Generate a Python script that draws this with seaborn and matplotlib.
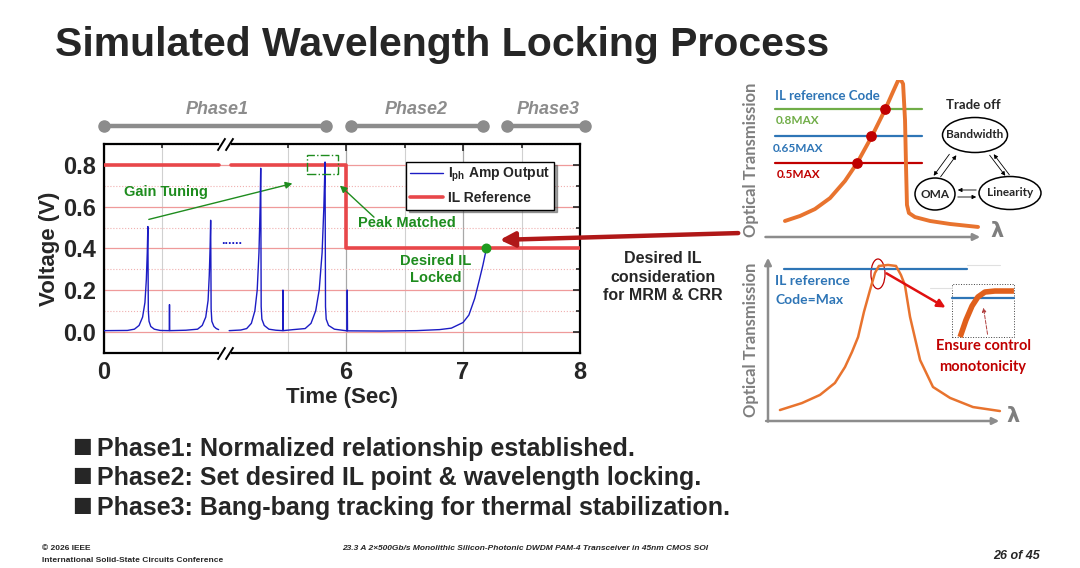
import numpy as np
import pandas as pd
import matplotlib
matplotlib.use("Agg")
import matplotlib.pyplot as plt
import seaborn as sns
from matplotlib.patches import Rectangle, Ellipse
from matplotlib.lines import Line2D

# ---------------- main chart data (time in s, voltage in V) ----------------
# phase-1 trace before the axis break (0 - 1 s)
seg1_t = [0.00, 0.20, 0.26, 0.30, 0.33, 0.35, 0.362, 0.370, 0.375, 0.379, 0.385, 0.40, 0.43, 0.48,
          0.558, 0.560, 0.562, 0.70, 0.80, 0.84, 0.87, 0.89, 0.90, 0.907, 0.912, 0.916, 0.922, 0.94, 0.96, 0.98]
seg1_v = [0.005, 0.006, 0.012, 0.03, 0.07, 0.14, 0.25, 0.38, 0.505, 0.10, 0.05, 0.025, 0.012, 0.006,
          0.005, 0.13, 0.005, 0.007, 0.012, 0.03, 0.07, 0.15, 0.27, 0.40, 0.535, 0.11, 0.05, 0.025, 0.015, 0.01]
# trace after the break (5 - 8 s)
seg2_t = [5.00, 5.10, 5.15, 5.19, 5.22, 5.24, 5.255, 5.265, 5.270, 5.274, 5.28, 5.30, 5.34, 5.40,
          5.458, 5.460, 5.462, 5.55, 5.65, 5.70, 5.74, 5.77, 5.795, 5.81, 5.820, 5.824, 5.83, 5.85, 5.90, 5.98,
          6.008, 6.010, 6.012, 6.30, 6.60, 6.80, 6.90, 7.00, 7.05, 7.10, 7.14, 7.17, 7.20]
seg2_v = [0.005, 0.008, 0.015, 0.04, 0.10, 0.20, 0.38, 0.60, 0.785, 0.12, 0.06, 0.03, 0.012, 0.007,
          0.005, 0.20, 0.005, 0.01, 0.015, 0.04, 0.10, 0.20, 0.38, 0.60, 0.815, 0.12, 0.06, 0.03, 0.012, 0.006,
          0.004, 0.20, 0.004, 0.003, 0.005, 0.01, 0.017, 0.044, 0.08, 0.16, 0.25, 0.32, 0.40]
# IL reference
il_t = [0.0, 0.98, 5.02, 6.0, 6.0, 8.0]
il_v = [0.8, 0.8, 0.8, 0.8, 0.4, 0.4]
il_seg = [0, 0, 1, 1, 1, 1]
lock_t, lock_v = 7.2, 0.4

x_ticks = [0, 6, 7, 8]
x_minor = [0.5, 5.5, 6.5, 7.5]
y_ticks = [0.0, 0.2, 0.4, 0.6, 0.8]
y_minor = [-0.1, 0.1, 0.3, 0.5, 0.7, 0.9]

phase_names = ["Phase1", "Phase2", "Phase3"]
phase_start = [0.0, 6.04, 7.38]
phase_end = [5.83, 7.17, 8.04]
phase_label_t = [0.97, 6.60, 7.73]

# axis break: 1 s ... 5 s squeezed into a small gap
BRK_LO, BRK_HI, GAP = 1.0, 5.0, 0.07

# ---------------- right-hand sketches (normalised units) ----------------
top_x = [0.083, 0.153, 0.222, 0.292, 0.361, 0.417, 0.486, 0.546, 0.583, 0.606, 0.620, 0.630, 0.639,
         0.644, 0.648, 0.657, 0.685, 0.755, 0.847, 0.977]
top_y = [0.102, 0.134, 0.178, 0.248, 0.357, 0.471, 0.643, 0.809, 0.924, 0.994, 1.000, 0.975, 0.745,
         0.427, 0.204, 0.153, 0.127, 0.102, 0.083, 0.064]
ref_levels = [0.815, 0.643, 0.471]
ref_cross_x = [0.546, 0.481, 0.417]
ref_names = ["0.8MAX", "0.65MAX", "0.5MAX"]
ref_colors = ["#70ad47", "#2e75b6", "#c00000"]

bot_x = [0.051, 0.145, 0.222, 0.286, 0.329, 0.359, 0.385, 0.410, 0.436, 0.457, 0.474, 0.513, 0.547,
         0.568, 0.585, 0.607, 0.650, 0.705, 0.778, 0.876, 0.991]
bot_y = [0.066, 0.108, 0.157, 0.229, 0.325, 0.416, 0.506, 0.657, 0.789, 0.892, 0.934, 0.940, 0.934,
         0.880, 0.819, 0.627, 0.367, 0.205, 0.139, 0.084, 0.060]
zoom_x = [0.821, 0.846, 0.872, 0.897, 0.927, 0.970, 1.051]
zoom_y = [0.506, 0.608, 0.693, 0.747, 0.777, 0.783, 0.783]

bullets = ["Phase1: Normalized relationship established.",
           "Phase2: Set desired IL point & wavelength locking.",
           "Phase3: Bang-bang tracking for thermal stabilization."]

# ---------------- style ----------------
sns.set_style("white")
plt.rcParams["font.family"] = ["Liberation Sans", "DejaVu Sans"]
plt.rcParams["font.weight"] = "bold"
plt.rcParams["mathtext.fontset"] = "custom"
plt.rcParams["mathtext.rm"] = "Liberation Sans:bold"
plt.rcParams["mathtext.it"] = "Liberation Sans:bold"
plt.rcParams["mathtext.bf"] = "Liberation Sans:bold"

BLUE = "#1c1cc4"
ILRED = "#e8474a"
GREEN = "#1e8c1e"
ORANGE = "#e8732e"
GREY = "#8c8c8c"

fig = plt.figure(figsize=(10.8, 5.68), dpi=100)
fig.patch.set_facecolor("white")


def px_box(x0, y0, x1, y1):
    return [x0 / 1080, 1 - y1 / 568, (x1 - x0) / 1080, (y1 - y0) / 568]


ax = fig.add_axes(px_box(104, 144.3, 580, 352.5))


def fwd(t):
    t = np.asarray(t, dtype=float)
    return np.where(t <= BRK_LO, t,
                    np.where(t >= BRK_HI, t - (BRK_HI - BRK_LO) + GAP,
                             BRK_LO + (t - BRK_LO) / (BRK_HI - BRK_LO) * GAP))


def inv(u):
    u = np.asarray(u, dtype=float)
    return np.where(u <= BRK_LO, u,
                    np.where(u >= BRK_LO + GAP, u + (BRK_HI - BRK_LO) - GAP,
                             BRK_LO + (u - BRK_LO) / GAP * (BRK_HI - BRK_LO)))


ax.set_xscale("function", functions=(fwd, inv))

trace = pd.DataFrame({"t": seg1_t + seg2_t, "v": seg1_v + seg2_v,
                      "seg": [0] * len(seg1_t) + [1] * len(seg2_t)})
il = pd.DataFrame({"t": il_t, "v": il_v, "seg": il_seg})

sns.lineplot(data=il, x="t", y="v", units="seg", estimator=None, sort=False,
             color=ILRED, lw=2.6, ax=ax, zorder=3)
sns.lineplot(data=trace, x="t", y="v", units="seg", estimator=None, sort=False,
             color=BLUE, lw=1.0, ax=ax, zorder=4)
ax.scatter([lock_t], [lock_v], s=38, color="#1f9a1f", zorder=6)

ax.set_xlim(0, 8)
ax.set_ylim(-0.1, 0.9)
ax.set_xticks(x_ticks)
ax.set_xticks(x_minor, minor=True)
ax.set_xticklabels([str(v) for v in x_ticks])
ax.set_yticks(y_ticks)
ax.set_yticks(y_minor, minor=True)
ax.set_yticklabels([f"{v:.1f}" for v in y_ticks])
ax.tick_params(which="both", direction="in", top=True, right=True, width=1.2)
ax.tick_params(which="major", length=5, labelsize=17, pad=6)
ax.tick_params(which="minor", length=3)
for lab in ax.get_xticklabels() + ax.get_yticklabels():
    lab.set_fontweight("bold")
for sp in ax.spines.values():
    sp.set_linewidth(1.6)
    sp.set_color("black")

ax.grid(which="major", axis="y", color="#ef9a9a", lw=0.9)
ax.grid(which="minor", axis="y", color="#f0b0b0", lw=0.8, ls=":")
ax.grid(which="major", axis="x", color="#a8a8a8", lw=0.9)
ax.grid(which="minor", axis="x", color="#d0d0d0", lw=0.8)
ax.set_axisbelow(True)

ax.set_xlabel("Time (Sec)", fontsize=16, fontweight="bold", labelpad=2)
ax.set_ylabel("Voltage (V)", fontsize=16, fontweight="bold")
ax.yaxis.set_label_coords(-0.092, 0.5)

# axis break marks
xa = ax.get_xaxis_transform()
for yy in (0, 1):
    ax.plot([BRK_LO, BRK_HI], [yy, yy], color="white", lw=3, transform=xa, clip_on=False, zorder=7)
    ax.plot([BRK_LO, BRK_HI], [yy, yy], ls="none", marker=[(-1, -1.6), (1, 1.6)], ms=9,
            mec="black", mew=1.4, transform=xa, clip_on=False, zorder=8)

# phase bars
for name, s, e, lt in zip(phase_names, phase_start, phase_end, phase_label_t):
    ax.plot([s, e], [1.09, 1.09], color=GREY, lw=3.2, marker="o", ms=8, transform=xa,
            clip_on=False, solid_capstyle="round")
    ax.text(lt, 1.165, name, transform=xa, ha="center", va="center", fontsize=13,
            fontweight="bold", style="italic", color=GREY)

# annotations inside chart
ax.add_patch(Rectangle((5.669, 0.757), 0.265, 0.091, fill=False, ec=GREEN, lw=1.0,
                       ls="-.", zorder=5))
ax.annotate("", xy=(5.564, 0.715), xytext=(0.36, 0.536),
            arrowprops=dict(arrowstyle="-|>", color=GREEN, lw=1.0, mutation_scale=10))
ax.text(0.53, 0.669, "Gain Tuning", ha="center", va="center", fontsize=10.5, color=GREEN)
ax.annotate("", xy=(5.93, 0.711), xytext=(6.256, 0.541),
            arrowprops=dict(arrowstyle="-|>", color=GREEN, lw=1.0, mutation_scale=10))
ax.text(6.52, 0.52, "Peak Matched", ha="center", va="center", fontsize=10.5, color=GREEN)
ax.text(6.77, 0.298, "Desired IL\nLocked", ha="center", va="center", fontsize=10.5,
        color=GREEN, linespacing=1.25)
ax.text(0.269, 0.534, "......", ha="center", va="center", fontsize=9, color=BLUE,
        transform=ax.transAxes)

handles = [Line2D([], [], color=BLUE, lw=1.0), Line2D([], [], color=ILRED, lw=2.6)]
fig.legend(handles, [r"$\mathregular{I_{ph}}$ Amp Output", "IL Reference"],
           loc="upper left", bbox_to_anchor=(399 / 1080, 1 - 155 / 568), fontsize=10,
           frameon=True, fancybox=False, shadow=True, edgecolor="black",
           borderpad=0.3, labelspacing=0.5, handlelength=2.4, handletextpad=0.3)

# ---------------- overlay in pixel units ----------------
ov = fig.add_axes([0, 0, 1, 1], zorder=5)
ov.set_xlim(0, 1080)
ov.set_ylim(568, 0)
ov.axis("off")
ov.patch.set_alpha(0)

ov.text(55, 45, "Simulated Wavelength Locking Process", fontsize=29.5, fontweight="bold",
        va="center", ha="left")

ov.annotate("", xy=(497, 240), xytext=(741, 233),
            arrowprops=dict(arrowstyle="-|>", color="#b01818", lw=3.2, mutation_scale=22))
ov.text(663, 277, "Desired IL\nconsideration\nfor MRM & CRR", ha="center", va="center",
        fontsize=11.5, fontweight="bold", linespacing=1.3)

for i, b in enumerate(bullets):
    yb = 449 + i * 29.5
    ov.text(72, yb - 3, "\u25a0", fontsize=15, family="DejaVu Sans", va="center", ha="left")
    ov.text(97, yb, b, fontsize=18, fontweight="bold", va="center", ha="left")

ov.text(42, 549, "\u00a9 2026 IEEE", fontsize=6, va="center", ha="left")
ov.text(42, 560, "International Solid-State Circuits Conference", fontsize=6, va="center", ha="left")
ov.text(525, 549, "23.3 A 2\u00d7500Gb/s Monolithic Silicon-Photonic DWDM PAM-4 Transceiver in 45nm CMOS SOI",
        fontsize=6, style="italic", va="center", ha="center")
ov.text(1040, 556, "26 of 45", fontsize=9, style="italic", va="center", ha="right")

CAL = ["Lato", "DejaVu Sans"]

# top sketch
at = fig.add_axes(px_box(767, 80, 983, 237), zorder=4)
at.axis("off")
at.annotate("", xy=(0, 1.02), xytext=(0, -0.02), arrowprops=dict(arrowstyle="-|>", color=GREY, lw=1.8))
at.annotate("", xy=(1.0, 0), xytext=(-0.02, 0), arrowprops=dict(arrowstyle="-|>", color=GREY, lw=1.8))
for lvl, c in zip(ref_levels, ref_colors):
    at.plot([0.037, 0.718], [lvl, lvl], color=c, lw=1.6, zorder=2)
sns.lineplot(x=top_x, y=top_y, sort=False, estimator=None, color=ORANGE, lw=2.8, ax=at, zorder=3)
at.scatter(ref_cross_x, ref_levels, s=45, color="#c00000", zorder=4)
at.set_xlim(0, 1)
at.set_ylim(0, 1)

ov.text(775, 96, "IL reference Code", fontsize=9.5, color="#2e75b6", family=CAL, va="center", ha="left")
for name, c, yy, xx in zip(ref_names, ref_colors, [121, 148, 175], [776, 773, 777]):
    ov.text(xx, yy, name, fontsize=8.5, color=c, family=CAL, va="center", ha="left")
ov.text(751, 160, "Optical Transmission", rotation=90, fontsize=12, color="#7f7f7f",
        family=CAL, va="center", ha="center")
ov.text(997, 231, "\u03bb", fontsize=15, color="#7f7f7f", family="DejaVu Sans", va="center", ha="center")

# trade-off diagram
ov.text(973, 105, "Trade off", fontsize=9.5, family=CAL, va="center", ha="center")
for cx, cy, w, h, name in [(975, 135, 65, 35, "Bandwidth"), (935, 194, 40, 32, "OMA"),
                           (1010, 193, 62, 33, "Linearity")]:
    ov.add_patch(Ellipse((cx, cy), w, h, fill=False, ec="black", lw=1.1))
    ov.text(cx, cy, name, fontsize=8.5, family=CAL, va="center", ha="center")
arr = dict(arrowstyle="-|>", color="black", lw=0.6, mutation_scale=6)
ov.annotate("", xy=(932, 178), xytext=(951, 152), arrowprops=arr)
ov.annotate("", xy=(958, 153), xytext=(939, 179), arrowprops=arr)
ov.annotate("", xy=(1007, 178), xytext=(988, 153), arrowprops=arr)
ov.annotate("", xy=(992, 152), xytext=(1011, 177), arrowprops=arr)
ov.annotate("", xy=(955, 190), xytext=(979, 190), arrowprops=arr)
ov.annotate("", xy=(979, 197), xytext=(955, 197), arrowprops=arr)

# bottom sketch
ab = fig.add_axes(px_box(768, 255, 1002, 421), zorder=4)
ab.axis("off")
ab.annotate("", xy=(0, 1.0), xytext=(0, -0.02), arrowprops=dict(arrowstyle="-|>", color=GREY, lw=1.8))
ab.annotate("", xy=(1.0, 0), xytext=(-0.02, 0), arrowprops=dict(arrowstyle="-|>", color=GREY, lw=1.8))
ab.plot([0.85, 0.99], [0.94, 0.94], color="#e0e0e0", lw=0.8, clip_on=False)
ab.plot([0.692, 0.786], [0.801, 0.801], color="#e0e0e0", lw=0.8, clip_on=False)
ab.plot([0.068, 0.850], [0.916, 0.916], color="#2e75b6", lw=1.6, zorder=2)
sns.lineplot(x=bot_x, y=bot_y, sort=False, estimator=None, color=ORANGE, lw=1.8, ax=ab, zorder=3)
ab.add_patch(Ellipse((0.470, 0.886), 0.06, 0.18, fill=False, ec="#c00000", lw=0.9, clip_on=False))
ab.annotate("", xy=(0.769, 0.675), xytext=(0.496, 0.898),
            arrowprops=dict(arrowstyle="-|>", color="#e01010", lw=1.8, mutation_scale=12))
ab.add_patch(Rectangle((0.786, 0.506), 0.265, 0.319, fill=False, ec="#404040", lw=0.7,
                       ls=":", clip_on=False))
ab.plot([0.786, 1.051], [0.741, 0.741], color="#2e75b6", lw=1.6, clip_on=False, zorder=2)
ab.plot(zoom_x, zoom_y, color="#e0601c", lw=4.0, clip_on=False, zorder=3, solid_capstyle="butt")
ab.annotate("", xy=(0.919, 0.699), xytext=(0.94, 0.506),
            arrowprops=dict(arrowstyle="-|>", color="#b04040", lw=0.7, ls="--", mutation_scale=6))
ab.set_xlim(0, 1)
ab.set_ylim(0, 1)

ov.text(775, 281, "IL reference", fontsize=10, color="#2e75b6", family=CAL, va="center", ha="left")
ov.text(775, 300, "Code=Max", fontsize=10, color="#2e75b6", family=CAL, va="center", ha="left")
ov.text(983, 346, "Ensure control", fontsize=10.5, color="#c00000", family=CAL,
        va="center", ha="center")
ov.text(983, 367, "monotonicity", fontsize=10.5, color="#c00000", family=CAL,
        va="center", ha="center")
ov.text(751, 340, "Optical Transmission", rotation=90, fontsize=12, color="#7f7f7f",
        family=CAL, va="center", ha="center")
ov.text(1013, 416, "\u03bb", fontsize=15, color="#7f7f7f", family="DejaVu Sans", va="center", ha="center")

fig.savefig("out.png", dpi=100)
